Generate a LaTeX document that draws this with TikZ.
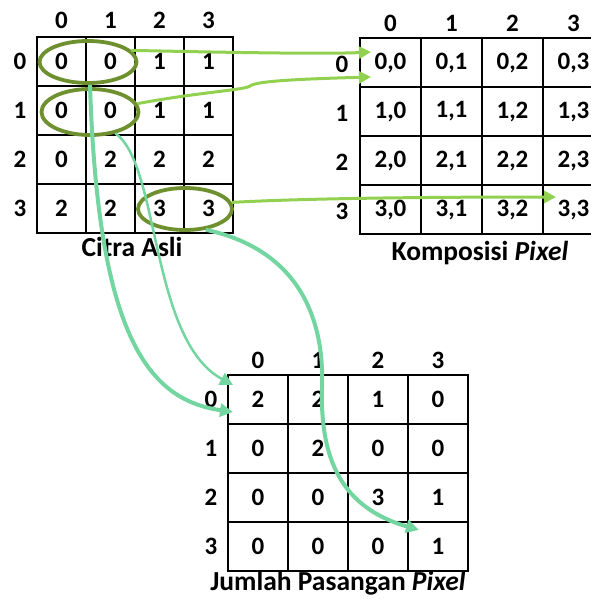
\documentclass[tikz,border=0pt]{standalone}
\usepackage{fontspec}
\setmainfont{Carlito}
\usetikzlibrary{calc}
\usetikzlibrary{arrows.meta}
\usetikzlibrary{shapes.geometric}

\definecolor{ringgreen}{RGB}{110,144,46}
\definecolor{limegreen}{RGB}{146,208,80}
\definecolor{mintgreen}{RGB}{115,214,160}

\tikzset{
    cell/.style={draw, line width=1.2pt, inner sep=0pt, minimum height=49pt,
        font=\bfseries\fontsize{25}{30}\selectfont},
    idx/.style={inner sep=0pt, font=\bfseries\fontsize{25}{30}\selectfont},
    caption/.style={inner sep=0pt, font=\bfseries\fontsize{27.5}{32}\selectfont},
    ring/.style={ellipse, draw=ringgreen, line width=3.8pt, inner sep=0pt},
    limearrow/.style={draw=limegreen, line width=3pt, -{Triangle[length=12pt,width=12pt]}, limegreen},
    mintarrow/.style={draw=mintgreen, -{Triangle[length=13pt,width=13pt]}, mintgreen}
}

\begin{document}
\begin{tikzpicture}[x=1pt, y=-1pt]
    \useasboundingbox (0,0) rectangle (591,603);

    % Citra Asli
    \foreach [count=\r from 0] \rowvals in {{0,0,1,1},{0,0,1,1},{0,2,2,2},{2,2,3,3}} {
        \foreach [count=\c from 0] \v in \rowvals {
            \node [cell, minimum width=49pt] (a\r\c) at (61.5+49*\c, 61.5+49*\r) {\v};
        }
    }
    \foreach \i in {0,...,3} {
        \node [idx] (acol\i) at (61.5+49*\i, 20) {\i};
        \node [idx] (arow\i) at (20, 61.5+49*\i) {\i};
    }
    \node [caption] (capa) at (132,247) {Citra Asli};

    % Komposisi Pixel
    \foreach \r in {0,...,3} {
        \foreach \c in {0,...,3} {
            \node [cell, minimum width=61pt] (b\r\c) at (390.5+61*\c, 62.5+49*\r) {\r,\c};
        }
    }
    \foreach \i in {0,...,3} {
        \node [idx] (bcol\i) at (390.5+61*\i, 23) {\i};
        \node [idx] (brow\i) at (342, 64+49*\i) {\i};
    }
    \node [caption] (capb) at (480,253) {Komposisi \textit{Pixel}};

    % Jumlah Pasangan Pixel
    \foreach [count=\r from 0] \rowvals in {{2,2,1,0},{0,2,0,0},{0,0,3,1},{0,0,0,1}} {
        \foreach [count=\c from 0] \v in \rowvals {
            \node [cell, minimum width=60pt] (c\r\c) at (258+60*\c, 399.5+49*\r) {\v};
        }
    }
    \foreach \i in {0,...,3} {
        \node [idx] (ccol\i) at (258+60*\i, 360) {\i};
        \node [idx] (crow\i) at (211, 399.5+49*\i) {\i};
    }
    \node [caption] (capc) at (338,583) {Jumlah Pasangan \textit{Pixel}};

    % pasangan yang dilingkari
    \node [ring, minimum width=97pt, minimum height=42pt] (e1) at (88,62) {};
    \node [ring, minimum width=97pt, minimum height=46pt] (e2) at (90,112) {};
    \node [ring, minimum width=94pt, minimum height=42pt] (e3) at (185,209) {};

    \coordinate (t1) at (371,52);
    \coordinate (t2) at (371,77);
    \coordinate (t3) at (556,197);
    \coordinate (s1) at (233,412);
    \coordinate (s2) at (233,385);
    \coordinate (s3) at (419,530);

    \draw [limearrow] (e1.15) .. controls (250,53) and (330,54) .. (t1);
    \draw [limearrow] (e2.10) .. controls (200,92) and (245,90) .. (250,86)
        .. controls (256,81) and (300,79) .. (t2);
    \draw [limearrow] (e3.8) .. controls (290,199) and (400,197) .. (t3);

    \draw [mintarrow, line width=4pt] (e1.-85) .. controls (98,340) and (150,400) .. (s1);
    \draw [mintarrow, line width=2.5pt] (e2.-40) .. controls (160,165) and (150,340) .. (s2);
    \draw [mintarrow, line width=4pt] (e3.-45) .. controls (300,250) and (325,320) .. (322,390)
        .. controls (320,470) and (350,510) .. (s3);
\end{tikzpicture}
\end{document}
